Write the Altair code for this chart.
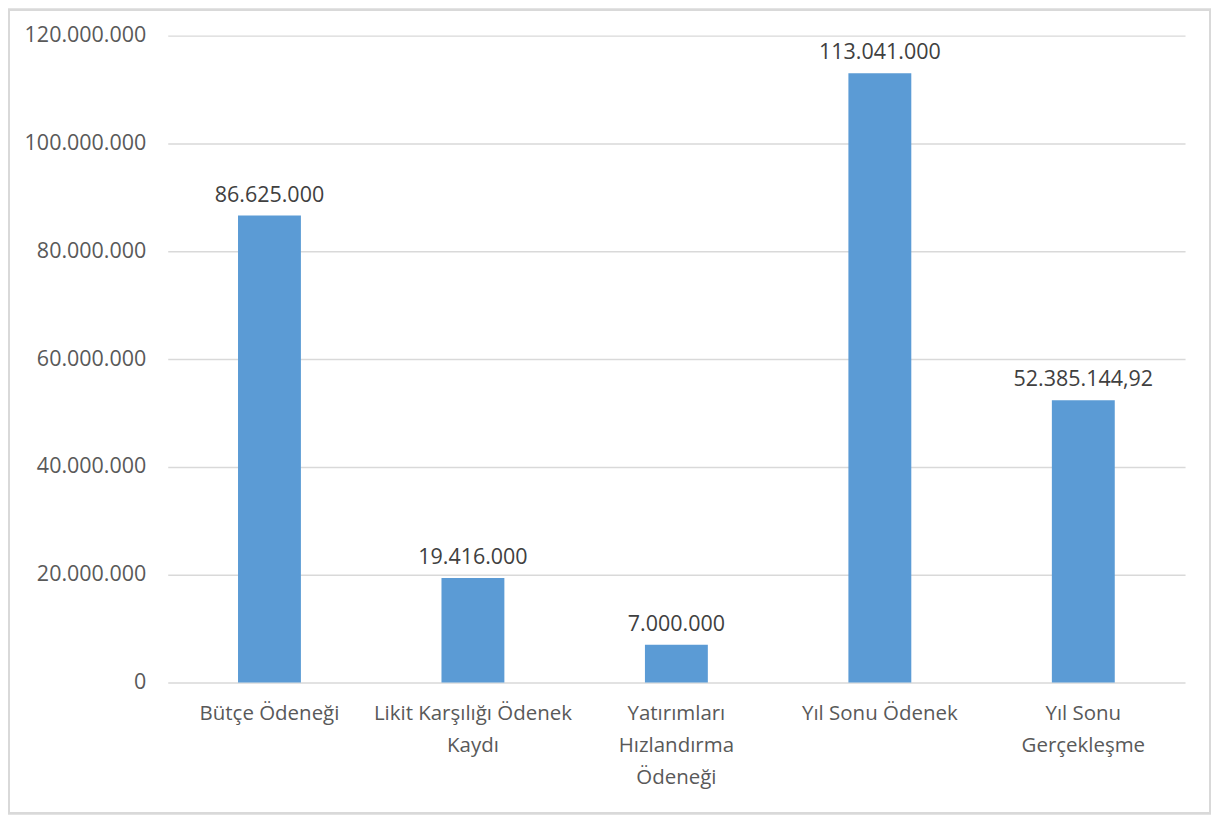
import altair as alt
import pandas as pd

categories = ["Bütçe Ödeneği", "Likit Karşılığı Ödenek Kaydı", "Yatırımları Hızlandırma Ödeneği",
              "Yıl Sonu Ödenek", "Yıl Sonu Gerçekleşme"]
wrapped = ["Bütçe Ödeneği", "Likit Karşılığı Ödenek|Kaydı", "Yatırımları|Hızlandırma|Ödeneği",
           "Yıl Sonu Ödenek", "Yıl Sonu|Gerçekleşme"]
values = [86625000, 19416000, 7000000, 113041000, 52385144.92]
y_ticks = [0, 20000000, 40000000, 60000000, 80000000, 100000000, 120000000]

df = pd.DataFrame({"cat": categories, "wrap": wrapped, "value": values})

label_map = "{" + ",".join(f'"{c}": "{w}"' for c, w in zip(categories, wrapped)) + "}"

W, H = 1019, 648
PL, PT, PR, PB = 160, 27, 26, 132

base = alt.Chart(df).encode(
    x=alt.X("cat:N", sort=categories, title=None,
            scale=alt.Scale(paddingInner=0, paddingOuter=0),
            axis=alt.Axis(labelAngle=0, domain=False, ticks=False, grid=False, labelPadding=21,
                          labelFont="Open Sans", labelFontSize=20.5, labelColor="#595959",
                          labelLineHeight=32, labelBaseline="top", labelLimit=300,
                          labelExpr=f"split({label_map}[datum.label], '|')")),
)

bars = base.mark_bar(color="#5B9BD5", size=63).encode(
    y=alt.Y("value:Q", title=None,
            scale=alt.Scale(domain=[0, 120000000], nice=False),
            axis=alt.Axis(values=y_ticks, format=",d", domain=False, ticks=False,
                          labelPadding=22, labelFont="Open Sans", labelFontSize=21.5,
                          labelColor="#595959", gridColor="#d9d9d9", gridWidth=1.5)),
)

texts = base.transform_calculate(
    lbl="datum.value % 1 == 0 ? format(datum.value, ',d') : format(datum.value, ',.2f')"
).mark_text(baseline="bottom", align="center", dy=-9, font="Open Sans", fontSize=21.5,
            color="#404040").encode(
    y=alt.Y("value:Q"), text="lbl:N")

border = alt.Chart(df).mark_rect(fill=None, stroke="#d9d9d9", strokeWidth=2, clip=False).encode(
    x=alt.value(-PL + 1), x2=alt.value(W + PR - 1),
    y=alt.value(-PT + 1), y2=alt.value(H + PB - 1))

chart = alt.layer(bars, texts, border).properties(
    width=W, height=H,
    autosize=alt.AutoSizeParams(type="none"),
    padding={"left": PL, "top": PT, "right": PR, "bottom": PB},
    background="white",
).configure(
    view={"stroke": None},
    locale={"number": {"decimal": ",", "thousands": ".", "grouping": [3], "currency": ["", ""]}}
)

chart.save("out.html", embed_options={"renderer": "svg", "actions": False})
